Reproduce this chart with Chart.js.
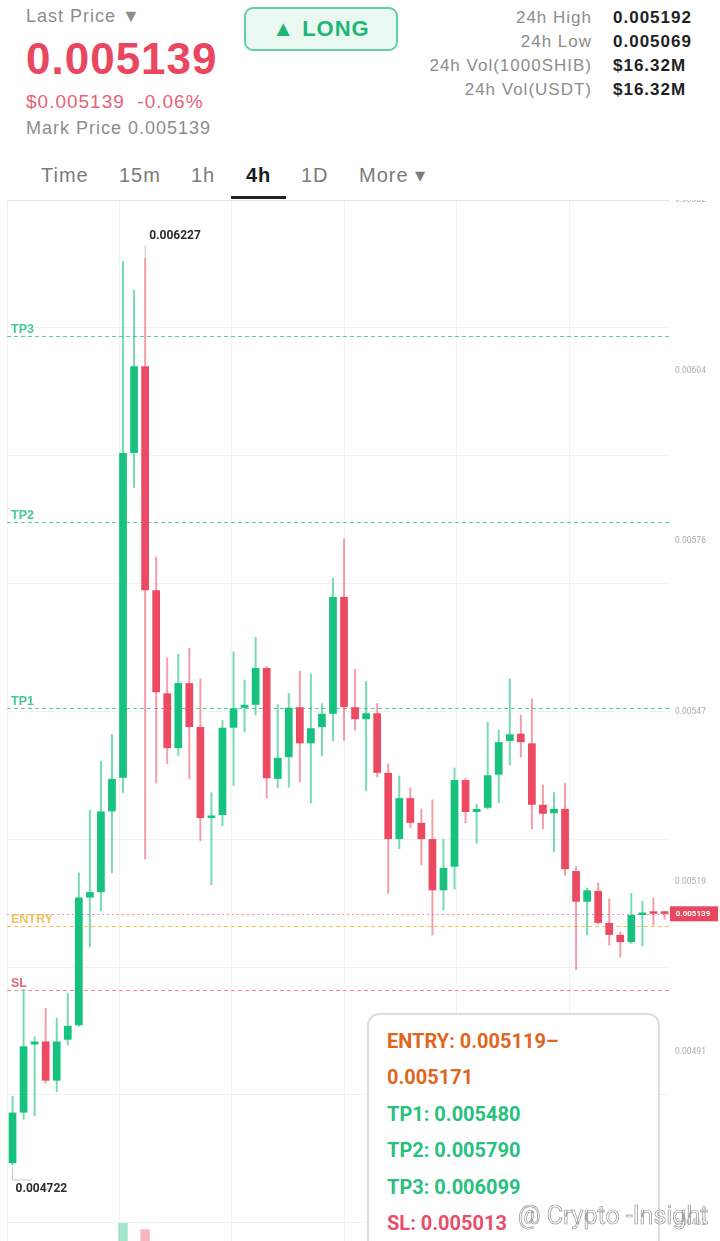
<!DOCTYPE html>
<html>
<head>
<meta charset="utf-8">
<script src="https://cdn.jsdelivr.net/npm/chart.js@4.4.1/dist/chart.umd.min.js"></script>
<style>
  html, body { margin: 0; padding: 0; background: #fff; }
  body { width: 720px; height: 1241px; overflow: hidden; position: relative; font-family: Roboto, "Noto Sans", sans-serif; }
  .abs { position: absolute; white-space: nowrap; line-height: 1; }
  .hd { font-family: "Liberation Sans", Arial, sans-serif; letter-spacing: 1px; }
  #lastLbl { left: 26px; top: 7px; font-size: 18px; color: #8d8d8d; }
  #price { left: 26px; top: 37px; font-size: 44px; font-weight: 700; color: #e8475f; }
  #chg { left: 26px; top: 92px; font-size: 19px; color: #e85f78; }
  #mark { left: 26px; top: 119px; font-size: 18px; color: #8d8d8d; }
  #long { left: 244px; top: 7px; width: 150px; height: 40px; border: 2px solid #62d0a0; border-radius: 9px;
          background: #e9f8f1; color: #1fb574; font-size: 22px; font-weight: 700; display: flex;
          align-items: center; justify-content: center; }
  .stat { position: absolute; font-size: 17px; line-height: 1; white-space: nowrap; }
  .stat.k { right: 128px; color: #8d8d8d; text-align: right; }
  .stat.v { left: 613px; color: #222; font-weight: 700; }
  #tabs { position: absolute; left: 0; top: 140px; width: 720px; height: 60px; background: #fff; z-index: 2; }
  .tab { position: absolute; top: 25px; font-size: 20px; line-height: 1; color: #7b7b7b; }
  .tab.on { color: #1a1a1a; font-weight: 700; }
  #uline { position: absolute; left: 231px; top: 56px; width: 55px; height: 3px; background: #222; }
  #wrap { position: absolute; left: 0; top: 188px; width: 720px; height: 1053px; }
  #box { position: absolute; left: 367px; top: 1013px; width: 271px; height: 260px; border: 2px solid #dcdcdc;
         border-radius: 12px; background: #fff; padding: 8px 0 0 18px; z-index: 3; }
  #box div { font-size: 20px; font-weight: 700; line-height: 36.4px; white-space: nowrap; }
  #wm { position: absolute; left: 518px; top: 1203px; font-size: 25px; color: rgba(255,255,255,0.92);
        -webkit-text-stroke: 0.7px rgba(110,110,110,0.75); z-index: 4; white-space: nowrap; line-height: 1; }
</style>
</head>
<body>
<div id="lastLbl" class="abs hd">Last Price ▼</div>
<div id="price" class="abs hd">0.005139</div>
<div id="chg" class="abs hd">$0.005139&nbsp;&nbsp;-0.06%</div>
<div id="mark" class="abs hd">Mark Price 0.005139</div>
<div id="long" class="abs hd">▲ LONG</div>

<div class="stat k hd" style="top:9px">24h High</div><div class="stat v hd" style="top:9px">0.005192</div>
<div class="stat k hd" style="top:33px">24h Low</div><div class="stat v hd" style="top:33px">0.005069</div>
<div class="stat k hd" style="top:57px">24h Vol(1000SHIB)</div><div class="stat v hd" style="top:57px">$16.32M</div>
<div class="stat k hd" style="top:81px">24h Vol(USDT)</div><div class="stat v hd" style="top:81px">$16.32M</div>

<div id="tabs">
  <div class="tab hd" style="left:41px">Time</div>
  <div class="tab hd" style="left:119px">15m</div>
  <div class="tab hd" style="left:191px">1h</div>
  <div class="tab on hd" style="left:246px">4h</div>
  <div class="tab hd" style="left:301px">1D</div>
  <div class="tab hd" style="left:359px">More ▾</div>
  <div id="uline"></div>
</div>

<div id="wrap"><canvas id="chart"></canvas></div>

<div id="box">
  <div style="color:#e0661f">ENTRY: 0.005119–</div>
  <div style="color:#e0661f">0.005171</div>
  <div style="color:#27c07f">TP1: 0.005480</div>
  <div style="color:#27c07f">TP2: 0.005790</div>
  <div style="color:#27c07f">TP3: 0.006099</div>
  <div style="color:#e5506a">SL: 0.005013</div>
</div>
<div id="wm">@ Crypto -Insight</div>

<script>
// 4h candles
const opens  = [0.004725,0.004809,0.004922,0.004927,0.004862,0.004930,0.004954,0.005166,0.005175,0.005309,
                0.005365,0.005904,0.006048,0.005676,0.005505,0.005414,0.005522,0.005449,0.005298,0.005303,
                0.005448,0.005481,0.005486,0.005547,0.005363,0.005399,0.005482,0.005422,0.005449,0.005471,
                0.005665,0.005482,0.005462,0.005472,0.005373,0.005263,0.005331,0.005290,0.005263,0.005178,
                0.005217,0.005361,0.005308,0.005315,0.005370,0.005426,0.005438,0.005422,0.005320,0.005306,
                0.005313,0.005210,0.005159,0.005177,0.005124,0.005104,0.005092,0.005137,0.005142,0.005141];
const highs  = [0.004836,0.005013,0.004935,0.004982,0.004966,0.005007,0.005207,0.005311,0.005392,0.005437,
                0.006222,0.006174,0.006227,0.005731,0.005564,0.005570,0.005580,0.005529,0.005340,0.005460,
                0.005574,0.005527,0.005598,0.005550,0.005486,0.005505,0.005542,0.005537,0.005488,0.005696,
                0.005761,0.005545,0.005525,0.005488,0.005388,0.005368,0.005348,0.005313,0.005328,0.005263,
                0.005381,0.005364,0.005321,0.005457,0.005444,0.005529,0.005469,0.005496,0.005353,0.005340,
                0.005356,0.005217,0.005182,0.005190,0.005164,0.005109,0.005173,0.005160,0.005165,0.005143];
const lows   = [0.004722,0.004798,0.004804,0.004858,0.004844,0.004921,0.004952,0.005084,0.005144,0.005207,
                0.005340,0.005847,0.005230,0.005356,0.005388,0.005402,0.005363,0.005260,0.005187,0.005285,
                0.005352,0.005441,0.005469,0.005331,0.005348,0.005349,0.005358,0.005323,0.005401,0.005426,
                0.005427,0.005444,0.005343,0.005366,0.005173,0.005247,0.005282,0.005220,0.005104,0.005145,
                0.005180,0.005290,0.005256,0.005313,0.005323,0.005386,0.005399,0.005280,0.005280,0.005242,
                0.005203,0.005046,0.005104,0.005122,0.005087,0.005067,0.005090,0.005086,0.005120,0.005130];
const closes = [0.004809,0.004919,0.004927,0.004862,0.004927,0.004953,0.005166,0.005175,0.005309,0.005363,
                0.005904,0.006048,0.005676,0.005507,0.005414,0.005522,0.005449,0.005298,0.005302,0.005448,
                0.005480,0.005486,0.005547,0.005364,0.005398,0.005481,0.005422,0.005447,0.005471,0.005665,
                0.005482,0.005462,0.005472,0.005373,0.005263,0.005331,0.005290,0.005263,0.005178,0.005215,
                0.005361,0.005308,0.005313,0.005369,0.005424,0.005437,0.005424,0.005320,0.005305,0.005313,
                0.005213,0.005159,0.005178,0.005124,0.005104,0.005092,0.005137,0.005140,0.005139,0.005139];
// only the two biggest volume bars poke into view at the bottom
const volumes = [null,null,null,null,null,null,null,null,null,null,
                 5.2,null,3.4,null,null,null,null,null,null,null,
                 null,null,null,null,null,null,null,null,null,null,
                 null,null,null,null,null,null,null,null,null,null,
                 null,null,null,null,null,null,null,null,null,null,
                 null,null,null,null,null,null,null,null,null,null];

// signal levels
const levelNames  = ['TP3', 'TP2', 'TP1', 'ENTRY', 'SL'];
const levelValues = [0.006099, 0.005790, 0.005480, 0.005119, 0.005013];
const lastPrice = 0.005139;

// price axis
const yTickLabels = ['0.00462', '0.00491', '0.00519', '0.00547', '0.00576', '0.00604', '0.00632'];
const Y_MIN = 0.0045958, Y_MAX = 0.006324;
const TICK_LOW = 0.004626;

const UP = '#17c27f', DOWN = '#ec4a63';
const UP_WICK = 'rgba(23,194,127,0.6)', DOWN_WICK = 'rgba(236,74,99,0.55)';
const GRID = '#f1f1f1';
const FONT = 'Roboto, "Noto Sans", sans-serif';
const LABEL_FONT = '"Liberation Sans", Arial, sans-serif';

const labels = opens.map((_, i) => i);
const isUp = i => closes[i] >= opens[i];

const LEVEL_STYLE = {
  TP3:   { line: 'rgba(60,196,140,0.85)', text: '#47c995' },
  TP2:   { line: 'rgba(60,196,140,0.85)', text: '#47c995' },
  TP1:   { line: 'rgba(60,196,140,0.85)', text: '#47c995' },
  ENTRY: { line: 'rgba(240,190,70,0.9)',  text: '#f1c060' },
  SL:    { line: 'rgba(228,90,112,0.7)',  text: '#e4627a' },
};

const levelsPlugin = {
  id: 'levels',
  beforeDatasetsDraw(chart) {
    const { ctx, chartArea: a, scales: { y } } = chart;
    ctx.save();
    ctx.lineWidth = 1;
    // last price dotted line
    let py = Math.round(y.getPixelForValue(lastPrice)) + 0.5;
    ctx.setLineDash([2, 3]);
    ctx.strokeStyle = 'rgba(232,71,95,0.6)';
    ctx.beginPath(); ctx.moveTo(a.left, py); ctx.lineTo(a.right, py); ctx.stroke();

    ctx.font = 'bold 12.5px ' + LABEL_FONT;
    ctx.textBaseline = 'alphabetic';
    levelNames.forEach((name, i) => {
      const st = LEVEL_STYLE[name];
      const ly = Math.round(y.getPixelForValue(levelValues[i])) + 0.5;
      ctx.setLineDash([4, 3]);
      ctx.strokeStyle = st.line;
      ctx.beginPath(); ctx.moveTo(a.left, ly); ctx.lineTo(a.right, ly); ctx.stroke();
      ctx.fillStyle = st.text;
      ctx.fillText(name, a.left + 4, ly - 4);
    });
    ctx.restore();
  },
  afterDatasetsDraw(chart) {
    const { ctx, scales: { x, y } } = chart;
    const hi = highs.indexOf(Math.max(...highs));
    const lo = lows.indexOf(Math.min(...lows));
    ctx.save();
    ctx.strokeStyle = '#c8c8c8';
    ctx.lineWidth = 1;
    // high marker
    const hx = x.getPixelForValue(hi), hy = y.getPixelForValue(highs[hi]);
    ctx.beginPath(); ctx.moveTo(hx, hy); ctx.lineTo(hx, hy - 13); ctx.stroke();
    ctx.fillStyle = '#2b2b2b';
    ctx.font = 'bold 12px ' + FONT;
    ctx.textBaseline = 'middle';
    ctx.fillText(highs[hi].toFixed(6), hx + 4, hy - 22);
    // low marker
    const lx = x.getPixelForValue(lo), ly = y.getPixelForValue(lows[lo]);
    ctx.beginPath(); ctx.moveTo(lx, ly + 2); ctx.lineTo(lx, ly + 15); ctx.lineTo(lx + 19, ly + 15); ctx.stroke();
    ctx.fillText(lows[lo].toFixed(6), lx + 3, ly + 24);
    ctx.restore();
  },
  afterDraw(chart) {
    const { ctx, chartArea: a, scales: { y } } = chart;
    const py = y.getPixelForValue(lastPrice);
    ctx.save();
    ctx.fillStyle = '#e8475f';
    ctx.fillRect(a.right, py - 7.5, 48, 15);
    ctx.fillStyle = '#fff';
    ctx.font = 'bold 8px ' + FONT;
    ctx.textAlign = 'center';
    ctx.textBaseline = 'middle';
    ctx.fillText(lastPrice.toFixed(6), a.right + 23, py + 0.5);
    ctx.restore();
  }
};

new Chart(document.getElementById('chart'), {
  type: 'bar',
  data: {
    labels: labels,
    datasets: [
      {
        label: 'body',
        data: opens.map((o, i) => [o, closes[i]]),
        backgroundColor: ctx => isUp(ctx.dataIndex) ? UP : DOWN,
        barPercentage: 0.7,
        categoryPercentage: 1,
        minBarLength: 2.5,
        order: 0,
      },
      {
        label: 'wick',
        data: lows.map((l, i) => [l, highs[i]]),
        backgroundColor: ctx => isUp(ctx.dataIndex) ? UP_WICK : DOWN_WICK,
        barThickness: 1.3,
        order: 1,
      },
      {
        label: 'volume',
        data: volumes,
        yAxisID: 'yVol',
        backgroundColor: ctx => isUp(ctx.dataIndex) ? 'rgba(23,194,127,0.4)' : 'rgba(236,74,99,0.4)',
        barPercentage: 0.85,
        categoryPercentage: 1,
        order: 2,
      }
    ]
  },
  options: {
    responsive: true,
    maintainAspectRatio: false,
    animation: false,
    layout: { padding: { left: 7, right: 0, top: 12, bottom: 0 } },
    datasets: { bar: { grouped: false } },
    plugins: { legend: { display: false }, tooltip: { enabled: false } },
    scales: {
      x: { display: false },
      xGrid: {
        type: 'linear', position: 'bottom', min: -0.5, max: 59.5, offset: false,
        border: { display: false },
        grid: { color: GRID, drawTicks: false, offset: false },
        ticks: { display: false },
        afterBuildTicks: ax => { ax.ticks = [-0.42, 9.7, 19.86, 30.05, 40.22, 50.38].map(v => ({ value: v })); },
        afterFit: ax => { ax.height = 0; ax.paddingLeft = 0; ax.paddingRight = 0; }
      },
      y: {
        type: 'linear', position: 'right', min: Y_MIN, max: Y_MAX,
        border: { display: false },
        grid: { display: false, drawTicks: false },
        ticks: {
          color: '#ababab', padding: 5, font: { size: 8.5, family: FONT },
          callback: (v, i) => yTickLabels[i]
        },
        afterBuildTicks: ax => {
          const step = (Y_MAX - TICK_LOW) / (yTickLabels.length - 1);
          ax.ticks = yTickLabels.map((_, i) => ({ value: TICK_LOW + i * step }));
        },
        afterFit: ax => { ax.width = 50; ax.paddingTop = 0; ax.paddingBottom = 0; }
      },
      yGrid: {
        type: 'linear', position: 'left', min: Y_MIN, max: Y_MAX,
        border: { display: false },
        grid: { color: ctx => ctx.index === 8 ? '#e6e6e6' : GRID, drawTicks: false },
        ticks: { display: false },
        afterBuildTicks: ax => {
          const step = (Y_MAX - TICK_LOW) / 8;
          ax.ticks = [0, 1, 2, 3, 4, 5, 6, 7, 8].map(k => ({ value: TICK_LOW + k * step }));
        },
        afterFit: ax => { ax.width = 0; ax.paddingTop = 0; ax.paddingBottom = 0; }
      },
      yVol: { display: false, min: 0, max: 300 }
    }
  },
  plugins: [levelsPlugin]
});
</script>
</body>
</html>
